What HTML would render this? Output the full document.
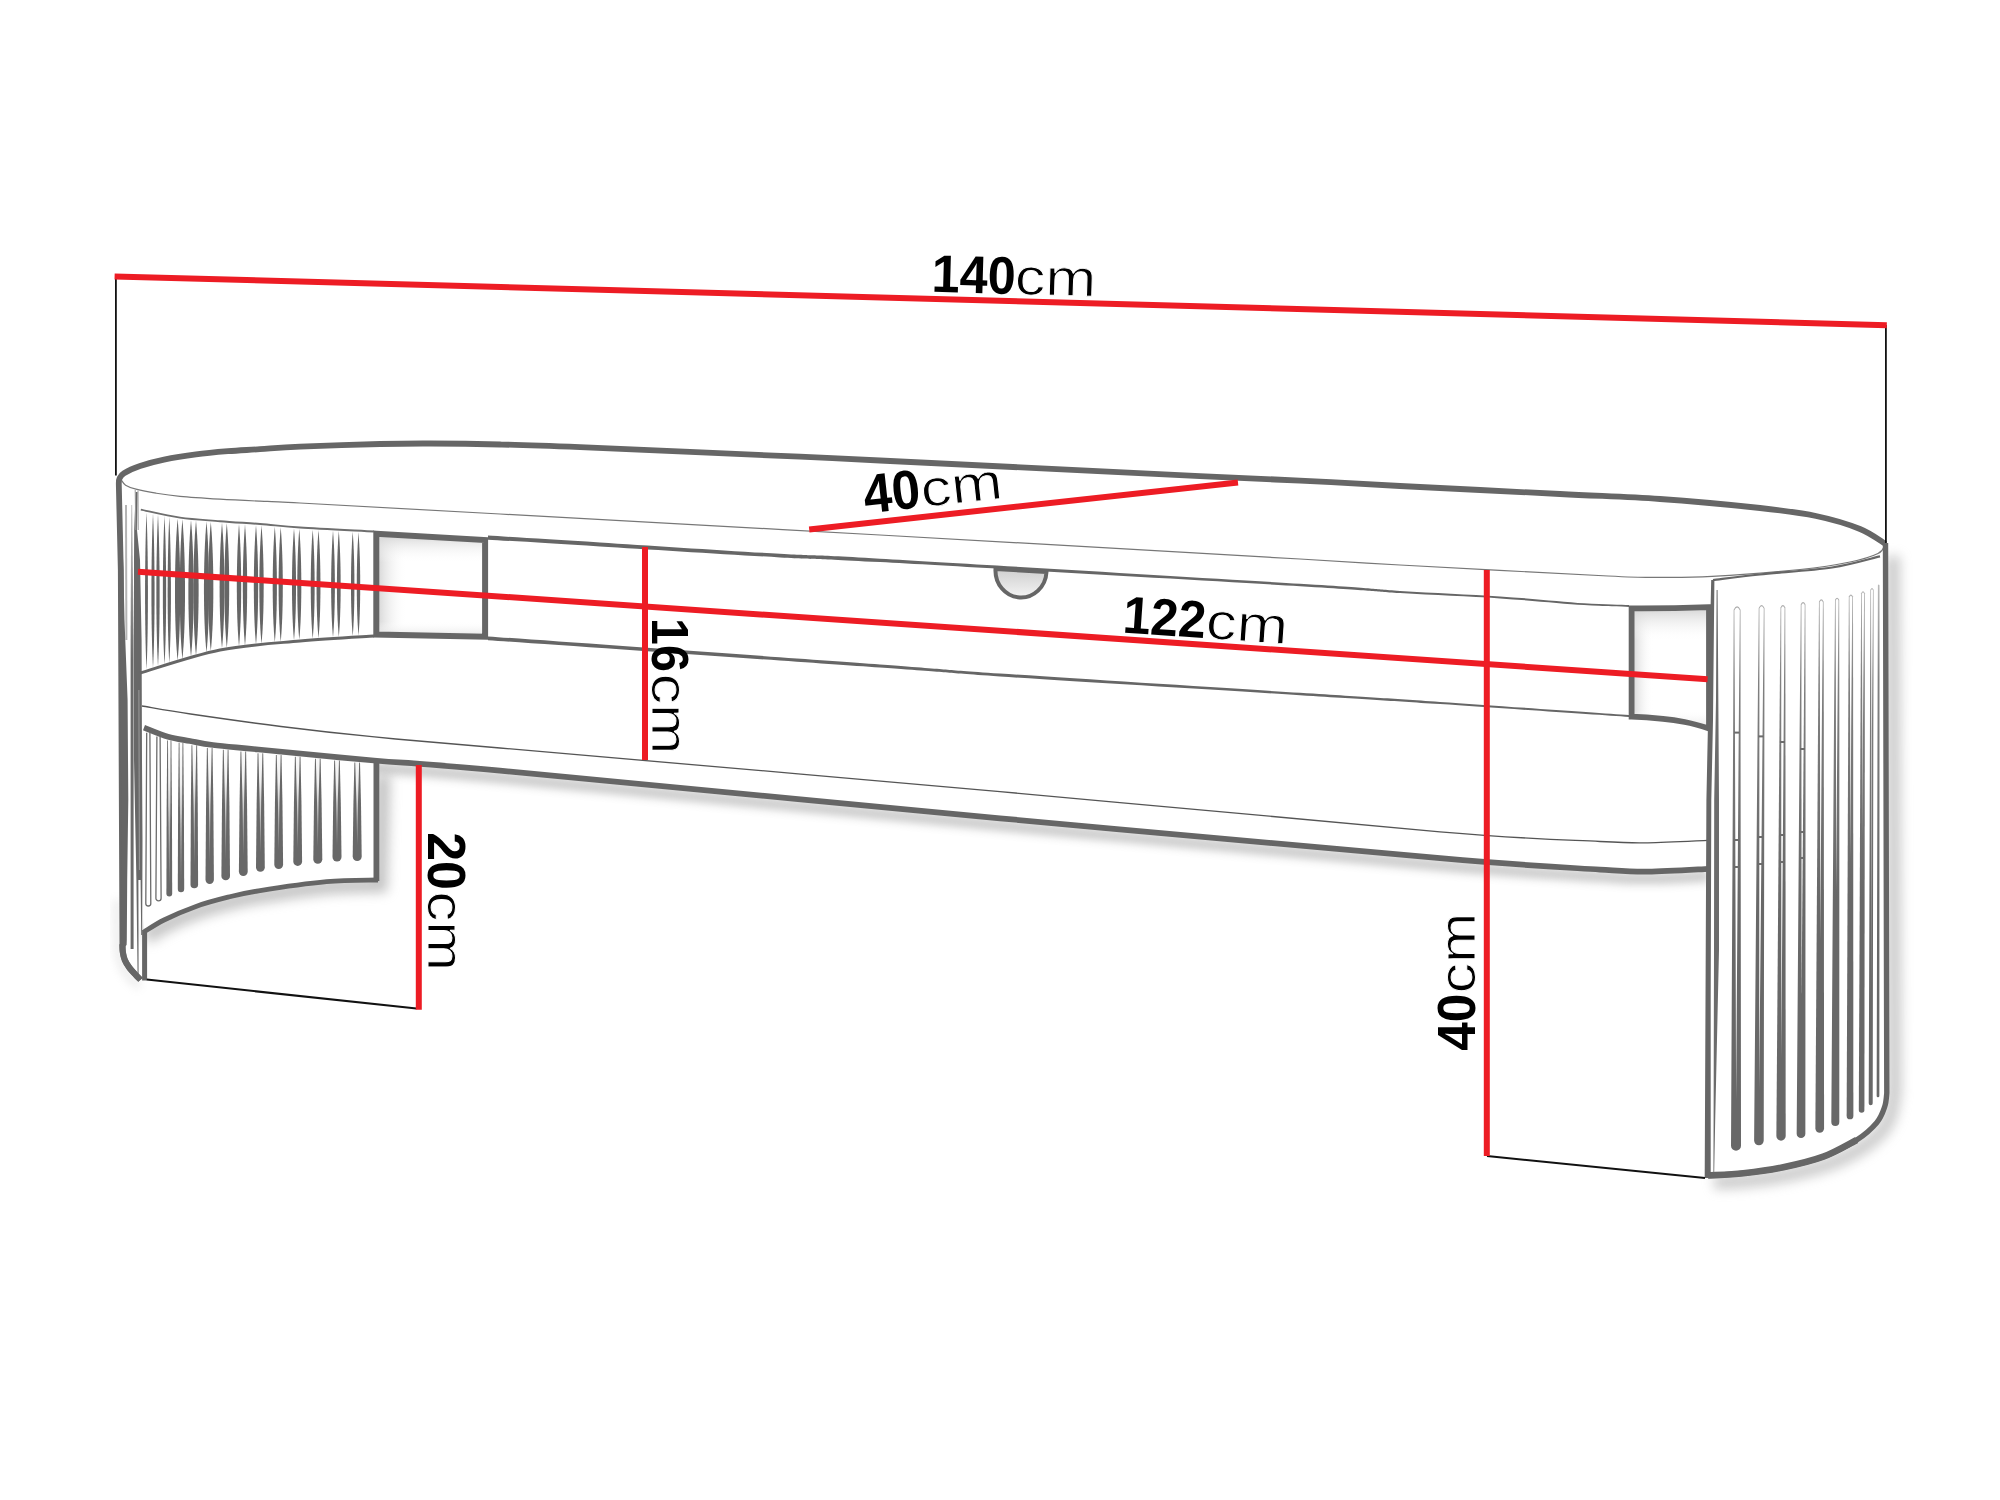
<!DOCTYPE html>
<html><head><meta charset="utf-8"><title>140cm</title>
<style>
html,body{margin:0;padding:0;background:#fff;}
body{width:2000px;height:1500px;overflow:hidden;}
svg{display:block}
text{font-family:"Liberation Sans",sans-serif;fill:#000}
.b{font-weight:700}
.r{stroke:#fff;stroke-width:0.9px;stroke-linejoin:round}
</style></head><body>
<svg width="2000" height="1500" viewBox="0 0 2000 1500">
<defs>
<filter id="bl8" x="-30%" y="-30%" width="160%" height="160%"><feGaussianBlur stdDeviation="8"/></filter>
<filter id="bl6" x="-30%" y="-30%" width="160%" height="160%"><feGaussianBlur stdDeviation="6"/></filter>
<filter id="bl4" x="-30%" y="-30%" width="160%" height="160%"><feGaussianBlur stdDeviation="4"/></filter>
<filter id="bl3" x="-30%" y="-30%" width="160%" height="160%"><feGaussianBlur stdDeviation="3"/></filter>
<linearGradient id="gH" x1="0" y1="0" x2="0" y2="1"><stop offset="0" stop-color="#cfcfcf"/><stop offset="1" stop-color="#f4f4f4"/></linearGradient>
<linearGradient id="gBa" gradientUnits="userSpaceOnUse" x1="0" y1="500" x2="0" y2="660"><stop offset="0" stop-color="#c8c8c8"/><stop offset="1" stop-color="#6a6a6a"/></linearGradient>
<linearGradient id="gTd" gradientUnits="userSpaceOnUse" x1="0" y1="740" x2="0" y2="880"><stop offset="0" stop-color="#fff"/><stop offset="0.3" stop-color="#efefef"/><stop offset="0.6" stop-color="#b5b5b5"/><stop offset="1" stop-color="#909090"/></linearGradient>
<linearGradient id="gcl" x1="0" y1="0" x2="1" y2="0"><stop offset="0" stop-color="#d2d2d2"/><stop offset="0.28" stop-color="#fff" stop-opacity="0"/></linearGradient>
<linearGradient id="gct" x1="0" y1="0" x2="0" y2="1"><stop offset="0" stop-color="#d2d2d2"/><stop offset="0.28" stop-color="#fff" stop-opacity="0"/></linearGradient>
<linearGradient id="gcb" x1="0" y1="1" x2="0" y2="0"><stop offset="0" stop-color="#e2e2e2"/><stop offset="0.15" stop-color="#fff" stop-opacity="0"/></linearGradient>
<linearGradient id="gFo" gradientUnits="userSpaceOnUse" x1="0" y1="585" x2="0" y2="900"><stop offset="0" stop-color="#b8b8b8"/><stop offset="0.3" stop-color="#808080"/><stop offset="1" stop-color="#686868"/></linearGradient>
</defs>
<rect width="2000" height="1500" fill="#fff"/>
<g filter="url(#bl4)" opacity="0.48"><path d="M144.0 727.6 C148.0 729.1 160.3 734.5 168.0 736.7 C175.7 738.9 182.5 739.6 190.0 741.0 C197.5 742.4 201.6 743.6 213.0 745.0 C224.4 746.4 231.8 746.9 258.6 749.5 C285.4 752.1 333.8 757.0 374.0 760.5 C414.2 764.0 395.7 761.1 500.0 770.7 C604.3 780.3 843.3 803.7 1000.0 818.3 C1156.7 832.9 1340.0 849.7 1440.0 858.2 C1540.0 866.8 1565.3 867.4 1600.0 869.6 C1634.7 871.8 1629.9 871.7 1648.0 871.6 C1666.1 871.5 1698.5 869.3 1708.6 868.8" stroke="#8f8f8f" stroke-width="11" fill="none" transform="translate(0,7)"/></g>
<path d="M142.0 706.0 C150.1 707.3 167.4 710.6 190.6 714.0 C213.8 717.4 250.8 722.7 281.0 726.5 C311.2 730.3 335.5 733.1 372.0 736.7 C408.5 740.3 395.3 738.9 500.0 748.0 C604.7 757.1 843.3 777.6 1000.0 791.6 C1156.7 805.6 1340.0 823.5 1440.0 831.8 C1540.0 840.1 1565.3 839.7 1600.0 841.5 C1634.7 843.3 1630.0 843.0 1648.0 842.8 C1666.0 842.6 1698.0 840.8 1708.0 840.4 L1708.6 868.8 L1648.0 871.6 L1600.0 869.6 L1440.0 858.2 L1000.0 818.3 L500.0 770.7 L374.0 760.5 L258.6 749.5 L213.0 745.0 L190.0 741.0 L168.0 736.7 L144.0 727.6 Z" fill="#fff"/>
<g filter="url(#bl6)" opacity="0.5"><path d="M1893 556 L1894.5 1093 C1892.5 1102.3 1892.4 1108.8 1890.7 1113.7 C1889.0 1118.7 1887.4 1124.2 1882.7 1129.7 C1878.0 1135.2 1871.6 1141.3 1862.7 1147.0 C1853.8 1152.7 1841.5 1159.2 1829.3 1163.7 C1817.1 1168.2 1802.6 1171.5 1789.3 1174.3 C1776.0 1177.1 1761.8 1178.9 1749.3 1180.3 C1736.8 1181.7 1719.9 1182.1 1714.0 1182.5" stroke="#999" stroke-width="14" fill="none"/></g>
<path d="M1712 580 L1880 556 L1886 544 L1886.8 1093 C1886.5 1095.3 1886.4 1101.8 1884.7 1106.7 C1883.0 1111.7 1881.4 1117.2 1876.7 1122.7 C1872.0 1128.2 1865.6 1134.3 1856.7 1140.0 C1847.8 1145.7 1835.5 1152.2 1823.3 1156.7 C1811.1 1161.2 1796.6 1164.5 1783.3 1167.3 C1770.0 1170.1 1755.8 1171.9 1743.3 1173.3 C1730.8 1174.7 1713.9 1175.1 1708.0 1175.5 Z" fill="#fff"/>
<g filter="url(#bl4)" opacity="0.22"><path d="M117 900 L118 950 Q121 974 140 986" stroke="#aaa" stroke-width="8" fill="none"/></g>
<path d="M119 480 L122.4 944 Q124 965 141 980 L146 980 L146 480 Z" fill="#fff"/>
<path d="M146.5 512.3 C144.6 556.3 144.6 631.9 146.5 669.6 C148.4 631.9 148.4 556.3 146.5 512.3 Z" fill="#666"/>
<path d="M153.0 513.6 C150.9 556.8 150.9 630.8 153.0 667.8 C155.1 630.8 155.1 556.8 153.0 513.6 Z" fill="#666"/>
<path d="M158.0 514.6 C155.8 557.1 155.8 629.9 158.0 666.3 C160.2 629.9 160.2 557.1 158.0 514.6 Z" fill="#666"/>
<path d="M164.5 515.9 C162.3 557.5 162.3 628.8 164.5 664.5 C166.7 628.8 166.7 557.5 164.5 515.9 Z" fill="#666"/>
<path d="M169.3 516.9 C167.1 557.8 167.1 628.0 169.3 663.1 C171.5 628.0 171.5 557.8 169.3 516.9 Z" fill="#666"/>
<path d="M177.6 518.6 C174.1 558.4 174.1 626.6 177.6 660.7 C181.1 626.6 181.1 558.4 177.6 518.6 Z" fill="#666"/>
<path d="M182.4 519.3 C178.9 558.5 178.9 625.7 182.4 659.3 C185.9 625.7 185.9 558.5 182.4 519.3 Z" fill="#666"/>
<path d="M191.0 520.1 C187.5 558.4 187.5 624.0 191.0 656.8 C194.5 624.0 194.5 558.4 191.0 520.1 Z" fill="#666"/>
<path d="M196.0 520.5 C192.5 558.3 192.5 623.0 196.0 655.4 C199.5 623.0 199.5 558.3 196.0 520.5 Z" fill="#666"/>
<path d="M206.5 521.5 C203.1 558.1 203.1 621.0 206.5 652.4 C209.9 621.0 209.9 558.1 206.5 521.5 Z" fill="#666"/>
<path d="M210.8 521.9 C207.4 558.1 207.4 620.1 210.8 651.1 C214.2 620.1 214.2 558.1 210.8 521.9 Z" fill="#666"/>
<path d="M222.0 522.8 C218.8 558.0 218.8 618.2 222.0 648.3 C225.2 618.2 225.2 558.0 222.0 522.8 Z" fill="#666"/>
<path d="M226.8 523.2 C223.6 558.1 223.6 617.8 226.8 647.7 C230.0 617.8 230.0 558.1 226.8 523.2 Z" fill="#666"/>
<path d="M239.0 524.0 C236.1 558.3 236.1 617.0 239.0 646.4 C241.9 617.0 241.9 558.3 239.0 524.0 Z" fill="#666"/>
<path d="M245.0 524.5 C242.1 558.4 242.1 616.6 245.0 645.7 C247.9 616.6 247.9 558.4 245.0 524.5 Z" fill="#666"/>
<path d="M256.0 525.2 C253.1 558.6 253.1 615.8 256.0 644.5 C258.9 615.8 258.9 558.6 256.0 525.2 Z" fill="#666"/>
<path d="M261.5 525.6 C258.6 558.7 258.6 615.5 261.5 643.8 C264.4 615.5 264.4 558.7 261.5 525.6 Z" fill="#666"/>
<path d="M274.8 526.8 C272.0 559.1 272.0 614.6 274.8 642.3 C277.6 614.6 277.6 559.1 274.8 526.8 Z" fill="#666"/>
<path d="M280.7 527.3 C277.9 559.3 277.9 614.2 280.7 641.7 C283.5 614.2 283.5 559.3 280.7 527.3 Z" fill="#666"/>
<path d="M294.0 528.5 C291.3 559.8 291.3 613.4 294.0 640.2 C296.7 613.4 296.7 559.8 294.0 528.5 Z" fill="#666"/>
<path d="M299.3 528.9 C296.6 559.9 296.6 613.0 299.3 639.6 C302.0 613.0 302.0 559.9 299.3 528.9 Z" fill="#666"/>
<path d="M312.7 529.7 C310.1 560.2 310.1 612.5 312.7 638.6 C315.3 612.5 315.3 560.2 312.7 529.7 Z" fill="#666"/>
<path d="M318.5 530.0 C315.9 560.3 315.9 612.3 318.5 638.2 C321.1 612.3 321.1 560.3 318.5 530.0 Z" fill="#666"/>
<path d="M333.0 530.8 C330.5 560.6 330.5 611.7 333.0 637.3 C335.5 611.7 335.5 560.6 333.0 530.8 Z" fill="#666"/>
<path d="M338.8 531.1 C336.3 560.7 336.3 611.5 338.8 636.9 C341.3 611.5 341.3 560.7 338.8 531.1 Z" fill="#666"/>
<path d="M352.7 531.8 C350.4 561.0 350.4 611.0 352.7 635.9 C355.0 611.0 355.0 561.0 352.7 531.8 Z" fill="#666"/>
<path d="M358.5 532.2 C356.2 561.1 356.2 610.7 358.5 635.5 C360.8 610.7 360.8 561.1 358.5 532.2 Z" fill="#666"/>
<path d="M131.2 505 L130.6 640 L130.6 949 L133.6 949 L133.6 640 L132.2 505 Z" fill="url(#gBa)"/>
<path d="M135.6 492 L134.2 530 L134 560 L134 760 L135.6 840 L136.4 880 L137.6 976 L138.6 976 L138.4 880 L140.6 880 L141.2 935 L142.2 935 L142.5 840 L142 760 L141.6 640 L140 560 L137 530 L137.6 492 Z" fill="#686868"/>
<path d="M138.9 690 L139.4 870" stroke="#9c9c9c" stroke-width="1"/>
<path d="M126 505 L126.4 640" stroke="#b4b4b4" stroke-width="2"/>
<g filter="url(#bl6)" opacity="0.5"><path d="M144.0 932.0 C147.3 930.0 155.3 924.3 164.0 920.0 C172.7 915.7 185.3 910.2 196.0 906.4 C206.7 902.6 217.6 899.8 228.0 897.2 C238.4 894.6 242.2 893.4 258.6 890.8 C275.0 888.2 306.7 883.5 326.6 881.7 C346.5 879.9 369.4 880.3 378.0 880.0 L381 770" stroke="#8a8a8a" stroke-width="15" fill="none" transform="translate(2,5)"/></g>
<path d="M144 728 L168.0 736.7 L190.0 741.0 L213.0 745.0 L258.6 749.5 L374.0 760.5 L376.5 761 L376.5 879.5 L326.6 881.7 L258.6 890.8 L228.0 897.2 L196.0 906.4 L164.0 920.0 L144.0 932.0 Z" fill="#fff"/>
<path d="M146.7 732.7 L145.8 903.5 A2.5 2.5 0 0 0 150.8 903.5 L149.9 732.7" fill="none" stroke="#6c6c6c" stroke-width="1.3"/>
<path d="M156.9 736.6 L155.9 898.2 A2.6 2.6 0 0 0 161.1 898.2 L160.1 736.6" fill="none" stroke="#6c6c6c" stroke-width="1.3"/>
<path d="M167.21 740.45 L166.66 805.99 L166.40 893.60 A2.90 2.90 0 0 0 172.20 893.60 L171.94 805.99 L171.39 740.45 Z" fill="#686868"/>
<path d="M168.01 739.45 L168.20 805.99 L169.30 885.58 L170.40 805.99 L170.59 739.45 Z" fill="url(#gTd)"/>
<path d="M178.70 742.74 L178.10 805.56 L177.80 889.10 A3.20 3.20 0 0 0 184.20 889.10 L183.90 805.56 L183.30 742.74 Z" fill="#686868"/>
<path d="M179.50 741.74 L179.90 805.56 L181.00 881.83 L182.10 805.56 L182.50 741.74 Z" fill="url(#gTd)"/>
<path d="M191.50 745.25 L190.85 805.33 L190.50 884.50 A3.80 3.80 0 0 0 198.10 884.50 L197.75 805.33 L197.10 745.25 Z" fill="#686868"/>
<path d="M192.30 744.25 L193.55 805.33 L194.30 865.41 L195.05 805.33 L196.30 744.25 Z" fill="url(#gTd)"/>
<path d="M206.90 747.93 L206.05 805.08 L205.50 879.80 A4.20 4.20 0 0 0 213.90 879.80 L213.35 805.08 L212.50 747.93 Z" fill="#686868"/>
<path d="M207.70 746.93 L208.95 805.08 L209.70 862.23 L210.45 805.08 L211.70 746.93 Z" fill="url(#gTd)"/>
<path d="M222.90 749.75 L222.00 804.58 L221.40 876.00 A4.30 4.30 0 0 0 230.00 876.00 L229.40 804.58 L228.50 749.75 Z" fill="#686868"/>
<path d="M223.70 748.75 L224.95 804.58 L225.70 859.41 L226.45 804.58 L227.70 748.75 Z" fill="url(#gTd)"/>
<path d="M240.50 751.49 L239.55 803.78 L238.90 871.60 A4.40 4.40 0 0 0 247.70 871.60 L247.05 803.78 L246.10 751.49 Z" fill="#686868"/>
<path d="M241.30 750.49 L242.55 803.78 L243.30 856.08 L244.05 803.78 L245.30 750.49 Z" fill="url(#gTd)"/>
<path d="M257.60 753.17 L256.65 802.95 L256.00 867.30 A4.40 4.40 0 0 0 264.80 867.30 L264.15 802.95 L263.20 753.17 Z" fill="#686868"/>
<path d="M258.40 752.17 L259.65 802.95 L260.40 852.74 L261.15 802.95 L262.40 752.17 Z" fill="url(#gTd)"/>
<path d="M275.90 754.92 L274.95 802.83 L274.30 864.60 A4.40 4.40 0 0 0 283.10 864.60 L282.45 802.83 L281.50 754.92 Z" fill="#686868"/>
<path d="M276.70 753.92 L277.95 802.83 L278.70 850.75 L279.45 802.83 L280.70 753.92 Z" fill="url(#gTd)"/>
<path d="M294.90 756.73 L293.95 802.58 L293.30 861.50 A4.40 4.40 0 0 0 302.10 861.50 L301.45 802.58 L300.50 756.73 Z" fill="#686868"/>
<path d="M295.70 755.73 L296.95 802.58 L297.70 848.43 L298.45 802.58 L299.70 755.73 Z" fill="url(#gTd)"/>
<path d="M315.00 758.64 L314.00 802.77 L313.30 859.20 A4.50 4.50 0 0 0 322.30 859.20 L321.60 802.77 L320.60 758.64 Z" fill="#686868"/>
<path d="M315.80 757.64 L317.05 802.77 L317.80 846.89 L318.55 802.77 L319.80 757.64 Z" fill="url(#gTd)"/>
<path d="M334.20 760.47 L333.20 802.95 L332.50 857.10 A4.50 4.50 0 0 0 341.50 857.10 L340.80 802.95 L339.80 760.47 Z" fill="#686868"/>
<path d="M335.00 759.47 L336.25 802.95 L337.00 845.42 L337.75 802.95 L339.00 759.47 Z" fill="url(#gTd)"/>
<path d="M354.40 762.40 L353.40 803.81 L352.70 856.50 A4.50 4.50 0 0 0 361.70 856.50 L361.00 803.81 L360.00 762.40 Z" fill="#686868"/>
<path d="M355.20 761.40 L356.45 803.81 L357.20 845.22 L357.95 803.81 L359.20 761.40 Z" fill="url(#gTd)"/>
<path d="M376.3 533.7 L485.1 540 L485.1 636.8 L376.3 634.5 Z" fill="#fff"/>
<path d="M376.3 533.7 L485.1 540 L485.1 636.8 L376.3 634.5 Z" fill="url(#gcl)"/>
<path d="M376.3 533.7 L485.1 540 L485.1 636.8 L376.3 634.5 Z" fill="url(#gct)"/>
<path d="M376.3 533.7 L485.1 540 L485.1 636.8 L376.3 634.5 Z" fill="url(#gcb)"/>
<path d="M376.3 533.7 L485.1 540 L485.1 636.8 L376.3 634.5 Z" stroke="#666666" stroke-width="6" fill="none" stroke-linejoin="miter"/>
<path d="M1631.6 608.4 Q1670 608.6 1709 607.2 L1709 728.5 C1700 725.6 1692 723.4 1684.7 722 C1676 720.3 1668 719.3 1663 718.8 C1652 717.7 1642 717 1631.6 716.7 Z" fill="#fff"/>
<path d="M1631.6 608.4 Q1670 608.6 1709 607.2 L1709 728.5 C1700 725.6 1692 723.4 1684.7 722 C1676 720.3 1668 719.3 1663 718.8 C1652 717.7 1642 717 1631.6 716.7 Z" fill="url(#gcl)"/>
<path d="M1631.6 608.4 Q1670 608.6 1709 607.2 L1709 728.5 C1700 725.6 1692 723.4 1684.7 722 C1676 720.3 1668 719.3 1663 718.8 C1652 717.7 1642 717 1631.6 716.7 Z" fill="url(#gct)"/>
<path d="M1631.6 608.4 Q1670 608.6 1709 607.2 L1709 728.5 C1700 725.6 1692 723.4 1684.7 722 C1676 720.3 1668 719.3 1663 718.8 C1652 717.7 1642 717 1631.6 716.7 Z" fill="url(#gcb)"/>
<path d="M1631.6 608.4 Q1670 608.6 1709 607.2 L1709 728.5 C1700 725.6 1692 723.4 1684.7 722 C1676 720.3 1668 719.3 1663 718.8 C1652 717.7 1642 717 1631.6 716.7 Z" stroke="#666666" stroke-width="5.8" fill="none" stroke-linejoin="miter"/>
<path d="M140.0 673.0 C153.3 669.2 193.3 655.3 220.0 650.0 C246.7 644.7 274.3 643.3 300.0 641.0 C325.7 638.7 361.7 636.8 374.0 636.0" stroke="#666666" stroke-width="3" fill="none" />
<path d="M140.8 509.6 C147.3 510.9 166.8 515.7 180.0 517.6 C193.2 519.5 206.7 520.1 220.0 521.2 C233.3 522.3 246.7 523.0 260.0 524.0 C273.3 525.0 281.0 526.2 300.0 527.5 C319.0 528.8 361.7 530.8 374.0 531.5" stroke="#6e6e6e" stroke-width="1.9" fill="none" />
<path d="M488.0 535.5 C506.7 536.7 551.3 539.4 600.0 542.4 C648.7 545.5 733.3 551.1 780.0 553.8 C826.7 556.5 793.3 553.7 880.0 558.7 C966.7 563.7 1213.3 578.4 1300.0 583.8 C1386.7 589.1 1366.7 588.8 1400.0 590.9 C1433.3 593.0 1469.3 594.3 1500.0 596.4 C1530.7 598.4 1562.5 601.8 1584.0 603.3 C1605.5 604.7 1621.5 604.8 1629.0 605.1 L1629.0 606.9 C1621.5 606.6 1605.5 606.6 1584.0 605.1 C1562.5 603.7 1530.7 600.4 1500.0 598.4 C1469.3 596.4 1433.3 595.2 1400.0 593.1 C1366.7 591.1 1386.7 591.4 1300.0 586.2 C1213.3 581.1 966.7 566.9 880.0 562.1 C793.3 557.3 826.7 560.0 780.0 557.4 C733.3 554.8 648.7 549.3 600.0 546.4 C551.3 543.4 506.7 540.8 488.0 539.7 Z" fill="#666666"/>
<path d="M488.0 636.4 C553.3 641.1 794.7 658.3 880.0 664.4 C965.3 670.6 930.0 668.8 1000.0 673.5 C1070.0 678.3 1226.7 688.1 1300.0 692.8 C1373.3 697.5 1385.2 698.2 1440.0 701.9 C1494.8 705.6 1597.5 712.9 1629.0 715.1 L1629.0 716.9 C1597.5 714.8 1494.8 707.7 1440.0 704.1 C1385.2 700.4 1373.3 699.8 1300.0 695.2 C1226.7 690.6 1070.0 681.1 1000.0 676.5 C930.0 671.8 965.3 673.6 880.0 667.6 C794.7 661.5 553.3 644.8 488.0 640.2 Z" fill="#666666"/>
<path d="M121.6 480.4 C122.3 481.2 123.2 483.7 125.6 485.2 C128.0 486.7 130.9 487.9 136.0 489.2 C141.1 490.5 148.7 492.0 156.0 493.2 C163.3 494.4 169.3 495.4 180.0 496.4 C190.7 497.4 206.7 498.4 220.0 499.2 C233.3 500.0 246.7 500.6 260.0 501.2 C273.3 501.8 260.0 500.9 300.0 503.0 C340.0 505.1 403.3 508.7 500.0 514.0 C596.7 519.3 746.7 527.5 880.0 535.0 C1013.3 542.5 1213.3 554.0 1300.0 559.0 C1386.7 564.0 1348.7 562.2 1400.0 565.0 C1451.3 567.8 1564.7 573.9 1608.0 576.0 C1651.3 578.1 1642.7 577.3 1660.0 577.4 C1677.3 577.5 1688.7 577.7 1712.0 576.4 C1735.3 575.1 1777.0 571.9 1800.0 569.5 C1823.0 567.1 1837.0 564.7 1850.0 562.0 C1863.0 559.3 1872.2 556.3 1878.0 553.5 C1883.8 550.7 1883.8 546.4 1885.0 545.0" stroke="#777" stroke-width="1.2" fill="none" />
<path d="M142.0 706.0 C150.1 707.3 167.4 710.6 190.6 714.0 C213.8 717.4 250.8 722.7 281.0 726.5 C311.2 730.3 335.5 733.1 372.0 736.7 C408.5 740.3 395.3 738.9 500.0 748.0 C604.7 757.1 843.3 777.6 1000.0 791.6 C1156.7 805.6 1340.0 823.5 1440.0 831.8 C1540.0 840.1 1565.3 839.7 1600.0 841.5 C1634.7 843.3 1630.0 843.0 1648.0 842.8 C1666.0 842.6 1698.0 840.8 1708.0 840.4" stroke="#555" stroke-width="1.3" fill="none" />
<path d="M144.0 727.6 C148.0 729.1 160.3 734.5 168.0 736.7 C175.7 738.9 182.5 739.6 190.0 741.0 C197.5 742.4 201.6 743.6 213.0 745.0 C224.4 746.4 231.8 746.9 258.6 749.5 C285.4 752.1 333.8 757.0 374.0 760.5 C414.2 764.0 395.7 761.1 500.0 770.7 C604.3 780.3 843.3 803.7 1000.0 818.3 C1156.7 832.9 1340.0 849.7 1440.0 858.2 C1540.0 866.8 1565.3 867.4 1600.0 869.6 C1634.7 871.8 1629.9 871.7 1648.0 871.6 C1666.1 871.5 1698.5 869.3 1708.6 868.8" stroke="#666666" stroke-width="5.7" fill="none" />
<path d="M135.2 490 L135.8 530 M138 490.5 L138.2 530" stroke="#999" stroke-width="1" fill="none" />
<path d="M995.5 569 A25.5 27 0 0 0 1046.5 572 Z" fill="url(#gH)" stroke="#666666" stroke-width="4"/>
<path d="M376.4 760 L376.4 881" stroke="#666666" stroke-width="5.8" fill="none" />
<path d="M378.0 880.0 C369.4 880.3 346.5 879.9 326.6 881.7 C306.7 883.5 275.0 888.2 258.6 890.8 C242.2 893.4 238.4 894.6 228.0 897.2 C217.6 899.8 206.7 902.6 196.0 906.4 C185.3 910.2 172.7 915.7 164.0 920.0 C155.3 924.3 147.3 930.0 144.0 932.0" stroke="#666666" stroke-width="4.8" fill="none" />
<path d="M144.6 930 L144.6 980.5" stroke="#666666" stroke-width="5" fill="none" />
<path d="M140.5 979.8 C139.8 979.0 137.8 977.2 136.0 975.2 C134.2 973.2 131.5 970.5 129.6 968.0 C127.7 965.5 125.9 962.7 124.8 960.0 C123.7 957.3 123.2 954.7 122.8 952.0 C122.4 949.3 122.5 945.3 122.4 944.0 L120.8 570 L118.8 484 C118.9 483.1 118.6 480.3 119.5 478.5 C120.4 476.7 120.6 475.3 124.0 473.2 C127.4 471.1 133.3 468.3 140.0 466.0 C146.7 463.7 154.7 461.5 164.0 459.6 C173.3 457.7 185.3 455.8 196.0 454.4 C206.7 453.0 217.3 452.1 228.0 451.2 C238.7 450.3 248.0 450.0 260.0 449.2 C272.0 448.4 280.0 447.5 300.0 446.6 C320.0 445.7 358.3 444.5 380.0 444.0 C401.7 443.5 410.0 443.4 430.0 443.5 C450.0 443.6 475.0 443.9 500.0 444.5 C525.0 445.1 530.0 445.2 580.0 447.2 C630.0 449.2 750.0 454.5 800.0 456.7 C850.0 458.9 813.3 457.3 880.0 460.5 C946.7 463.7 1130.0 472.8 1200.0 476.1 C1270.0 479.5 1266.7 479.0 1300.0 480.6 C1333.3 482.2 1356.7 483.8 1400.0 486.0 C1443.3 488.2 1516.7 491.8 1560.0 494.0 C1603.3 496.2 1626.7 496.7 1660.0 499.0 C1693.3 501.3 1734.0 505.2 1760.0 508.0 C1786.0 510.8 1799.3 512.5 1816.0 516.0 C1832.7 519.5 1848.4 524.3 1860.0 529.0 C1871.6 533.7 1881.2 541.5 1885.5 544.0" stroke="#666666" stroke-width="5.8" fill="none" stroke-linejoin="round" stroke-linecap="butt"/>
<path d="M140.5 979.8 C139.8 979.0 137.8 977.2 136.0 975.2 C134.2 973.2 131.5 970.5 129.6 968.0 C127.7 965.5 125.9 962.7 124.8 960.0 C123.7 957.3 123.2 954.7 122.8 952.0 C122.4 949.3 122.5 945.3 122.4 944.0" stroke="#666666" stroke-width="6.2" fill="none" />
<path d="M121 500 L123.4 570 L124.5 620 L127.6 700 L128.3 800 L127.2 880 L126.8 940 L126.6 945 L124.5 947 L122 944 L120 600 Z" fill="#666666"/>
<path d="M1885.5 543 L1886.8 1093 C1886.5 1095.3 1886.4 1101.8 1884.7 1106.7 C1883.0 1111.7 1881.4 1117.2 1876.7 1122.7 C1872.0 1128.2 1865.6 1134.3 1856.7 1140.0 C1847.8 1145.7 1835.5 1152.2 1823.3 1156.7 C1811.1 1161.2 1796.6 1164.5 1783.3 1167.3 C1770.0 1170.1 1755.8 1171.9 1743.3 1173.3 C1730.8 1174.7 1713.9 1175.1 1708.0 1175.5" stroke="#666666" stroke-width="5.4" fill="none" stroke-linejoin="round"/>
<path d="M1856.7 1140.0 C1851.1 1142.8 1835.5 1152.2 1823.3 1156.7 C1811.1 1161.2 1796.6 1164.5 1783.3 1167.3 C1770.0 1170.1 1755.8 1171.9 1743.3 1173.3 C1730.8 1174.7 1713.9 1175.1 1708.0 1175.5" stroke="#666666" stroke-width="6.6" fill="none" />
<path d="M1711.2 580 L1714.4 580 L1713 720 L1711.3 800 L1710.7 1000 L1710.7 1178 L1704.7 1178 L1706.4 800 L1708.5 700 Z" fill="#666666"/>
<path d="M1716.6 590 L1717.6 590 L1719 800 L1719 950 L1715.2 1120 L1714.2 1172 L1713.4 1172 L1713.6 1120 L1714 950 L1714.2 800 L1716 700 Z" fill="#6c6c6c"/>
<path d="M1713.0 580.0 C1720.8 579.1 1740.2 576.6 1760.0 574.5 C1779.8 572.4 1812.0 570.5 1832.0 567.5 C1852.0 564.5 1872.0 558.2 1880.0 556.4" stroke="#666666" stroke-width="2.2" fill="none" />
<path d="M1733.65 609.75 L1733.15 730.00 L1731.01 1145.70 A5.00 5.00 0 0 0 1741.01 1145.70 L1740.55 730.00 L1740.55 609.75 Q1737.10 602.85 1733.65 609.75 Z" fill="url(#gFo)"/>
<path d="M1734.40 610.35 L1734.95 730.00 L1736.10 1100.00 L1738.75 730.00 L1739.80 610.35 Q1737.10 604.50 1734.40 610.35 Z" fill="#fff"/>
<path d="M1758.70 607.90 L1757.58 730.00 L1754.12 1140.50 A4.80 4.80 0 0 0 1763.72 1140.50 L1764.38 730.00 L1764.50 607.90 Q1761.60 602.10 1758.70 607.90 Z" fill="url(#gFo)"/>
<path d="M1759.45 608.50 L1759.38 730.00 L1759.18 1090.00 L1762.58 730.00 L1763.75 608.50 Q1761.60 603.75 1759.45 608.50 Z" fill="#fff"/>
<path d="M1780.50 607.40 L1779.46 730.00 L1776.37 1136.05 A4.65 4.65 0 0 0 1785.67 1136.05 L1785.46 730.00 L1785.30 607.40 Q1782.90 602.60 1780.50 607.40 Z" fill="url(#gFo)"/>
<path d="M1781.25 608.00 L1781.26 730.00 L1781.29 1060.00 L1783.66 730.00 L1784.55 608.00 Q1782.90 604.25 1781.25 608.00 Z" fill="#fff"/>
<path d="M1800.75 604.35 L1799.65 730.00 L1796.67 1133.65 A4.35 4.35 0 0 0 1805.37 1133.65 L1805.55 730.00 L1805.45 604.35 Q1803.10 599.65 1800.75 604.35 Z" fill="url(#gFo)"/>
<path d="M1801.50 604.95 L1801.45 730.00 L1801.54 1000.00 L1803.75 730.00 L1804.70 604.95 Q1803.10 601.30 1801.50 604.95 Z" fill="#fff"/>
<path d="M1818.95 601.65 L1818.01 730.00 L1815.36 1128.35 A4.35 4.35 0 0 0 1824.06 1128.35 L1823.81 730.00 L1823.65 601.65 Q1821.30 596.95 1818.95 601.65 Z" fill="url(#gFo)"/>
<path d="M1819.70 602.25 L1820.01 730.00 L1820.28 940.00 L1821.81 730.00 L1822.90 602.25 Q1821.30 598.60 1819.70 602.25 Z" fill="#fff"/>
<path d="M1835.00 599.80 L1833.95 730.00 L1831.31 1122.00 A4.00 4.00 0 0 0 1839.31 1122.00 L1839.35 730.00 L1839.20 599.80 Q1837.10 595.60 1835.00 599.80 Z" fill="url(#gFo)"/>
<path d="M1835.75 600.40 L1835.95 730.00 L1836.10 890.00 L1837.35 730.00 L1838.45 600.40 Q1837.10 597.25 1835.75 600.40 Z" fill="#fff"/>
<path d="M1848.80 596.60 L1848.17 730.00 L1846.66 1115.95 A3.35 3.35 0 0 0 1853.36 1115.95 L1853.17 730.00 L1853.00 596.60 Q1850.90 592.40 1848.80 596.60 Z" fill="url(#gFo)"/>
<path d="M1849.55 597.20 L1850.17 730.00 L1850.44 860.00 L1851.17 730.00 L1852.25 597.20 Q1850.90 594.05 1849.55 597.20 Z" fill="#fff"/>
<path d="M1861.15 593.15 L1860.43 730.00 L1858.81 1109.90 A2.80 2.80 0 0 0 1864.41 1109.90 L1864.83 730.00 L1864.85 593.15 Q1863.00 589.45 1861.15 593.15 Z" fill="url(#gFo)"/>
<path d="M1861.90 593.75 L1862.33 730.00 L1862.33 840.00 L1862.93 730.00 L1864.10 593.75 Q1863.00 591.10 1861.90 593.75 Z" fill="#fff"/>
<path d="M1870.30 589.70 L1869.94 730.00 L1868.71 1103.30 A2.00 2.00 0 0 0 1872.71 1103.30 L1873.34 730.00 L1873.70 589.70 Q1872.00 586.30 1870.30 589.70 Z" fill="url(#gFo)"/>
<path d="M1871.05 590.30 L1871.34 730.00 L1870.96 1000.00 L1871.94 730.00 L1872.95 590.30 Q1872.00 587.95 1871.05 590.30 Z" fill="#fff"/>
<path d="M1877.90 585.20 L1877.50 730.00 L1876.65 1095.95 A1.35 1.35 0 0 0 1879.35 1095.95 L1879.50 730.00 L1879.50 585.20 Q1878.70 583.60 1877.90 585.20 Z" fill="url(#gFo)"/>
<rect x="1734.3" y="731.6" width="5" height="2" fill="#6c6c6c"/>
<rect x="1734.1" y="839.0" width="5" height="2" fill="#6c6c6c"/>
<rect x="1734.1" y="866.0" width="5" height="2" fill="#6c6c6c"/>
<rect x="1758.4" y="735.4" width="5" height="2" fill="#6c6c6c"/>
<rect x="1757.9" y="836.0" width="5" height="2" fill="#6c6c6c"/>
<rect x="1757.8" y="863.0" width="5" height="2" fill="#6c6c6c"/>
<rect x="1779.9" y="741.0" width="5" height="2" fill="#6c6c6c"/>
<rect x="1779.6" y="834.0" width="5" height="2" fill="#6c6c6c"/>
<rect x="1779.5" y="861.0" width="5" height="2" fill="#6c6c6c"/>
<rect x="1800.0" y="748.0" width="5" height="2" fill="#6c6c6c"/>
<rect x="1799.7" y="831.0" width="5" height="2" fill="#6c6c6c"/>
<rect x="1799.6" y="857.0" width="5" height="2" fill="#6c6c6c"/>
<path d="M146.8 979.6 L416.5 1008.6" stroke="#111" stroke-width="2" fill="none" />
<path d="M1487 1156 L1705 1178" stroke="#111" stroke-width="2" fill="none" />
<path d="M115.9 276 L115.9 475.6" stroke="#111" stroke-width="1.8" fill="none" />
<path d="M1885.9 325 L1885.9 543" stroke="#111" stroke-width="1.8" fill="none" />
<line x1="114.6" y1="276.4" x2="1886.8" y2="325.3" stroke="#ed1c24" stroke-width="6.0"/>
<line x1="809.2" y1="529.4" x2="1238" y2="482.4" stroke="#ed1c24" stroke-width="6.0"/>
<line x1="138" y1="571.8" x2="1707.6" y2="679.2" stroke="#ed1c24" stroke-width="6.0"/>
<line x1="645" y1="547" x2="645" y2="760" stroke="#ed1c24" stroke-width="6.0"/>
<line x1="418.8" y1="765" x2="418.8" y2="1009.7" stroke="#ed1c24" stroke-width="6.0"/>
<line x1="1486.8" y1="570" x2="1486.8" y2="1156" stroke="#ed1c24" stroke-width="6.0"/>
<g transform="translate(934.2 291.9) rotate(1.59)"><text class="b" transform="translate(-3.02 0) scale(0.9506 1.000)" font-size="53">140</text><text class="r" transform="translate(80.36 0) scale(1.1840 1.000)" font-size="51.5">cm</text></g>
<g transform="translate(866 513.4) rotate(-6.3)"><text class="b" transform="translate(-0.51 0) scale(0.9261 1.000)" font-size="55">40</text><text class="r" transform="translate(56.84 0) scale(1.1919 1.000)" font-size="51.5">cm</text></g>
<g transform="translate(1125 632.7) rotate(4.0)"><text class="b" transform="translate(-2.98 0) scale(0.9475 1.000)" font-size="52.5">122</text><text class="r" transform="translate(80.24 0) scale(1.1950 1.000)" font-size="51.5">cm</text></g>
<g transform="translate(651.8 621) rotate(90)"><text class="b" transform="translate(-2.91 0) scale(0.9224 1.000)" font-size="52.5">16</text><text class="r" transform="translate(52.78 0) scale(1.1745 1.000)" font-size="51.5">cm</text></g>
<g transform="translate(428.4 833.7) rotate(90)"><text class="b" transform="translate(-1.56 0) scale(0.9613 1.000)" font-size="54">20</text><text class="r" transform="translate(57.72 0) scale(1.1572 1.000)" font-size="51.5">cm</text></g>
<g transform="translate(1474.5 1050.2) rotate(-90)"><text class="b" transform="translate(-0.51 0) scale(0.9485 1.000)" font-size="54">40</text><text class="r" transform="translate(56.98 0) scale(1.1745 1.000)" font-size="51.5">cm</text></g>
</svg>
</body></html>
